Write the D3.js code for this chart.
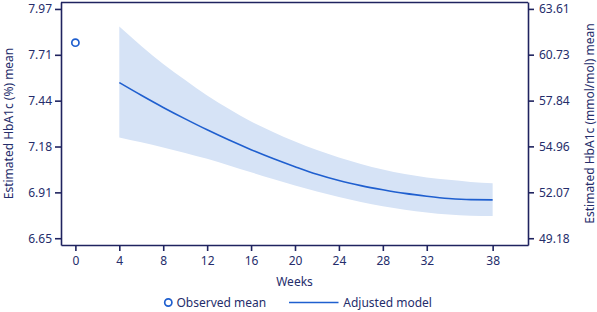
<!DOCTYPE html>
<html>
  <head>
    <meta charset="utf-8">
    <script src="https://cdn.jsdelivr.net/npm/d3@7"></script>
    <style>
      body { margin: 0; background: #fff; }
      text { font-family: "Noto Sans", sans-serif; fill: #252d6b; }
    </style>
  </head>
  <body>
    <script>

      // data
      var weeks = [4, 6, 8, 10, 12, 14, 16, 18, 20, 22, 24, 26, 28, 30, 32, 34, 36, 38];
      var model = [7.546, 7.473, 7.403, 7.337, 7.274, 7.215, 7.160, 7.109, 7.062, 7.018,
                   6.982, 6.953, 6.929, 6.908, 6.892, 6.879, 6.872, 6.871];
      var upper = [7.869, 7.757, 7.653, 7.561, 7.472, 7.394, 7.322, 7.262, 7.207, 7.158,
                   7.115, 7.078, 7.046, 7.020, 7.000, 6.986, 6.974, 6.967];
      var lower = [7.230, 7.202, 7.173, 7.141, 7.107, 7.069, 7.030, 6.991, 6.954, 6.919,
                   6.888, 6.859, 6.834, 6.814, 6.798, 6.786, 6.780, 6.778];
      var obsWeek = [0];
      var obsMean = [7.776];

      // ticks
      var xTicks = [0, 4, 8, 12, 16, 20, 24, 28, 32, 38];
      var yTicks = [6.65, 6.914, 7.178, 7.442, 7.706, 7.97];
      var yTickLabels = ["6.65", "6.91", "7.18", "7.44", "7.71", "7.97"];
      var y2Ticks = [49.18, 52.07, 54.96, 57.84, 60.73, 63.61];
      var y2TickLabels = ["49.18", "52.07", "54.96", "57.84", "60.73", "63.61"];

      // % -> mmol/mol
      function toIfcc(v) { return (v - 2.15) * 10.929; }

      var navy = "#1f235f";
      var blue = "#1f5fcf";
      var textColor = "#252d6b";

      var margin = {top: 2, right: 69, bottom: 67, left: 61};
      var W = 597, H = 312;
      var w = W - margin.left - margin.right;
      var h = H - margin.top - margin.bottom;

      var svg = d3.select("body")
          .append("svg")
          .attr("width", W)
          .attr("height", H);

      var g = svg.append("g")
          .attr("transform", "translate(" + margin.left + "," + margin.top + ")");

      var yDomain = [6.611, 8.010];
      var x = d3.scaleLinear().domain([-1.31, 41.22]).range([0, w]);
      var y = d3.scaleLinear().domain(yDomain).range([h, 0]);
      var y2 = d3.scaleLinear().domain(yDomain.map(toIfcc)).range([h, 0]);

      // confidence band
      var area = d3.area()
          .x(function(d, i) { return x(weeks[i]); })
          .y0(function(d, i) { return y(lower[i]); })
          .y1(function(d, i) { return y(upper[i]); })
          .curve(d3.curveMonotoneX);

      g.append("path")
          .datum(weeks)
          .attr("d", area)
          .attr("fill", "#d6e3f6");

      // adjusted model line
      var line = d3.line()
          .x(function(d, i) { return x(weeks[i]); })
          .y(function(d) { return y(d); })
          .curve(d3.curveMonotoneX);

      g.append("path")
          .datum(model)
          .attr("d", line)
          .attr("fill", "none")
          .attr("stroke", blue)
          .attr("stroke-width", 1.6);

      // observed mean
      g.selectAll(".obs")
          .data(obsMean)
          .enter()
          .append("circle")
          .attr("cx", function(d, i) { return x(obsWeek[i]); })
          .attr("cy", function(d) { return y(d); })
          .attr("r", 3.6)
          .attr("fill", "#fff")
          .attr("stroke", blue)
          .attr("stroke-width", 1.7);

      // axes
      function styleAxis(sel) {
        sel.selectAll("path, line").attr("stroke", navy).attr("stroke-width", 1.6);
        sel.selectAll("text").attr("font-size", "12px").attr("fill", textColor)
           .style("font-family", "'Noto Sans', sans-serif");
      }

      g.append("g")
          .attr("transform", "translate(0," + h + ")")
          .call(d3.axisBottom(x).tickValues(xTicks).tickSize(6).tickSizeOuter(0).tickPadding(5))
          .call(styleAxis);

      g.append("g")
          .call(d3.axisLeft(y).tickValues(yTicks).tickSize(6).tickSizeOuter(0).tickPadding(3)
                 .tickFormat(function(d, i) { return yTickLabels[i]; }))
          .call(styleAxis);

      g.append("g")
          .attr("transform", "translate(" + w + ",0)")
          .call(d3.axisRight(y2).tickValues(y2Ticks).tickSize(6).tickSizeOuter(0).tickPadding(5)
                 .tickFormat(function(d, i) { return y2TickLabels[i]; }))
          .call(styleAxis);

      // top border
      g.append("line")
          .attr("x1", 0).attr("x2", w)
          .attr("y1", 0.5).attr("y2", 0.5)
          .attr("stroke", navy)
          .attr("stroke-width", 1.6);

      // axis titles
      g.append("text")
          .attr("x", w / 2)
          .attr("y", h + 41)
          .attr("text-anchor", "middle")
          .attr("font-size", "12px")
          .text("Weeks");

      svg.append("text")
          .attr("transform", "translate(13," + (margin.top + h / 2) + ") rotate(-90)")
          .attr("text-anchor", "middle")
          .attr("font-size", "12px")
          .text("Estimated HbA1c (%) mean");

      svg.append("text")
          .attr("transform", "translate(594," + (margin.top + h / 2) + ") rotate(-90)")
          .attr("text-anchor", "middle")
          .attr("font-size", "12px")
          .text("Estimated HbA1c (mmol/mol) mean");

      // legend
      var legend = svg.append("g").attr("transform", "translate(0,302.5)");

      legend.append("circle")
          .attr("cx", 168.3).attr("cy", 0)
          .attr("r", 3.6)
          .attr("fill", "#fff")
          .attr("stroke", blue)
          .attr("stroke-width", 1.7);

      legend.append("text")
          .attr("x", 176.5).attr("y", 4.3)
          .attr("font-size", "12px")
          .text("Observed mean");

      legend.append("line")
          .attr("x1", 289).attr("x2", 338.5)
          .attr("y1", 0).attr("y2", 0)
          .attr("stroke", blue)
          .attr("stroke-width", 1.6);

      legend.append("text")
          .attr("x", 343.3).attr("y", 4.3)
          .attr("font-size", "12px")
          .text("Adjusted model");

    </script>
  </body>
</html>
